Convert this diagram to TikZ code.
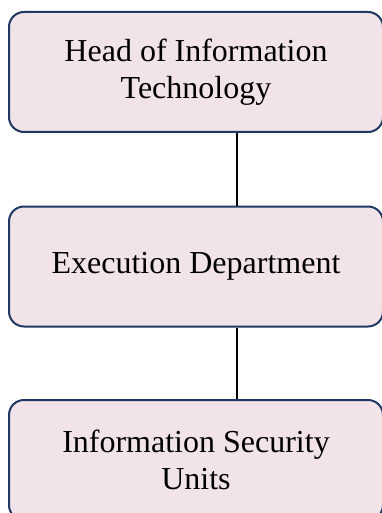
\documentclass[tikz,border=0pt]{standalone}
\usepackage{fontspec}
\setmainfont{Liberation Serif}
\definecolor{boxfill}{HTML}{F2E3E8}
\definecolor{boxline}{HTML}{1F3864}
\begin{document}
\begin{tikzpicture}[x=1pt,y=1pt,
  orgbox/.style={draw=boxline, line width=2pt, fill=boxfill, rounded corners=15pt,
    minimum width=374pt, minimum height=120pt, align=center, inner sep=0pt,
    font=\fontsize{32}{37}\selectfont},
  link/.style={draw=black, line width=2pt}]
\useasboundingbox (0,0) rectangle (382,-513);
\clip (0,0) rectangle (382,-513);
\fill[white] (0,0) rectangle (382,-513);
\node[orgbox] (b1) at (196,-72) {Head of Information\\Technology};
\node[orgbox] (b2) at (196,-266.5) {Execution Department};
\node[orgbox] (b3) at (196,-460) {Information Security\\Units};
\coordinate (lx) at (237,0);
\draw[link] (b1.south -| lx) -- (b2.north -| lx);
\draw[link] (b2.south -| lx) -- (b3.north -| lx);
\end{tikzpicture}
\end{document}
